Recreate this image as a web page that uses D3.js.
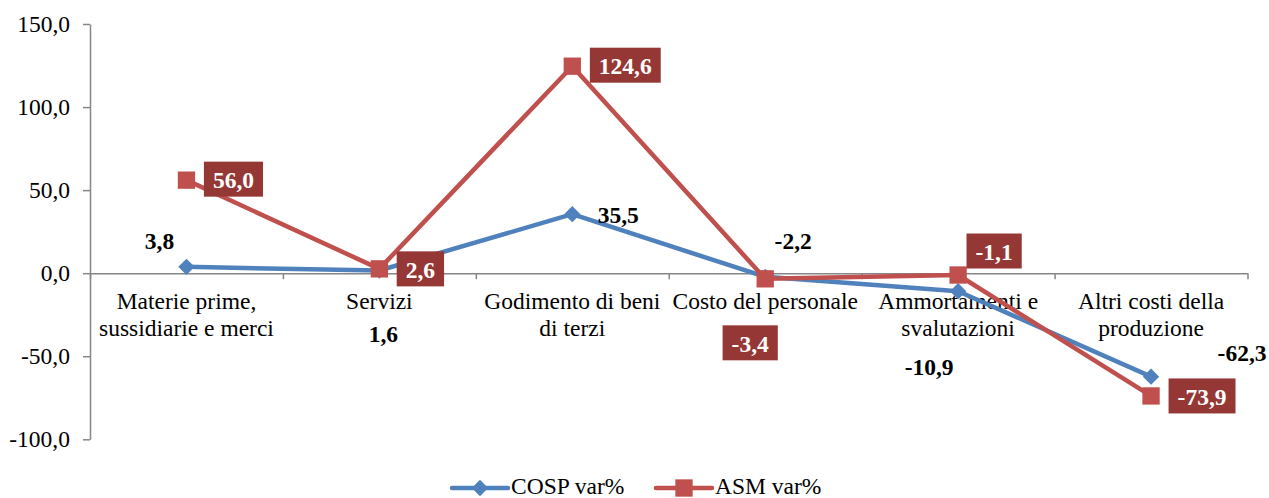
<!DOCTYPE html>
<html>
<head>
<meta charset="utf-8">
<script src="https://cdn.jsdelivr.net/npm/d3@7"></script>
<style>
body { margin: 0; background: white; }
svg text { font-family: "Liberation Serif", "Times New Roman", serif; }
</style>
</head>
<body>
<svg id="chart"></svg>
<script>
var categories = [
    ["Materie prime,", "sussidiarie e merci"],
    ["Servizi"],
    ["Godimento di beni", "di terzi"],
    ["Costo del personale"],
    ["Ammortamenti e", "svalutazioni"],
    ["Altri costi della", "produzione"]
]
var cospValues = [3.8, 1.6, 35.5, -2.2, -10.9, -62.3]
var asmValues = [56.0, 2.6, 124.6, -3.4, -1.1, -73.9]
var yTicks = [-100, -50, 0, 50, 100, 150]
var seriesNames = ["COSP var%", "ASM var%"]

// label placement (offset from the point, like the hand moved labels in the original)
var cospLabelOffset = [[-27, -26], [4, 63], [46, 1], [28, -36], [-29, 76], [91, -24]]
var asmLabelOffset = [[47, -1], [41, 0], [53, -1], [-15, 64], [36, -24], [51, 0]]

var width = 1269
var height = 498
var fontSize = "23.5px"
var blue = "#4f81bd", red = "#c0504d", boxRed = "#953735", axisGray = "#868686"

var svg = d3.select("#chart")
    .attr("width", width)
    .attr("height", height)

var x = d3.scaleBand()
    .domain(d3.range(categories.length))
    .range([90, 1247.5])
    .padding(0)
var xc = function(i) { return x(i) + x.bandwidth() / 2 }
var xEdge = d3.scaleLinear().domain([0, categories.length]).range([90, 1247.5])

var y = d3.scaleLinear()
    .domain([-100, 150])
    .range([439.3, 24])

var it = d3.formatLocale({decimal: ",", thousands: ".", grouping: [3], currency: ["", "€"], minus: "-"})
var fmt = it.format(".1f")

// y axis
var yAxis = svg.append("g")
    .attr("transform", "translate(90,0)")
    .call(d3.axisLeft(y).tickValues(yTicks).tickFormat(fmt).tickSizeInner(7).tickSizeOuter(0).tickPadding(13))
yAxis.select(".domain").attr("stroke", axisGray).attr("stroke-width", 1.5)
yAxis.selectAll(".tick line").attr("stroke", axisGray).attr("stroke-width", 1.5)
yAxis.selectAll(".tick text")
    .attr("fill", "black")
    .style("font-size", fontSize)

// x axis at zero
var xAxis = svg.append("g")
    .attr("transform", "translate(0," + y(0) + ")")
    .call(d3.axisBottom(xEdge).tickValues(d3.range(categories.length + 1)).tickFormat("").tickSizeInner(6).tickSizeOuter(0))
xAxis.select(".domain").attr("stroke", axisGray).attr("stroke-width", 1.5)
xAxis.selectAll(".tick line").attr("stroke", axisGray).attr("stroke-width", 1.5)

// category labels
svg.append("g").selectAll("text")
    .data(categories)
    .enter()
    .append("text")
    .attr("text-anchor", "middle")
    .attr("x", function(d, i) { return xc(i) })
    .attr("y", y(0) + 36)
    .style("font-size", fontSize)
    .attr("fill", "black")
    .each(function(d, i) {
        var t = d3.select(this)
        d.forEach(function(line, j) {
            t.append("tspan")
                .attr("x", xc(i))
                .attr("dy", j == 0 ? 0 : 27)
                .text(line)
        })
    })

var line = d3.line()
    .x(function(d, i) { return xc(i) })
    .y(function(d) { return y(d) })

svg.append("path")
    .datum(cospValues)
    .attr("fill", "none")
    .attr("stroke", blue)
    .attr("stroke-width", 4.5)
    .attr("stroke-linejoin", "round")
    .attr("d", line)

svg.append("path")
    .datum(asmValues)
    .attr("fill", "none")
    .attr("stroke", red)
    .attr("stroke-width", 4.5)
    .attr("stroke-linejoin", "round")
    .attr("d", line)

var diamond = d3.symbol().type(d3.symbolDiamond2).size(170)
var square = d3.symbol().type(d3.symbolSquare).size(300)

svg.append("g").selectAll("path")
    .data(cospValues)
    .enter()
    .append("path")
    .attr("d", diamond)
    .attr("transform", function(d, i) { return "translate(" + xc(i) + "," + y(d) + ")" })
    .attr("fill", blue)

svg.append("g").selectAll("path")
    .data(asmValues)
    .enter()
    .append("path")
    .attr("d", square)
    .attr("transform", function(d, i) { return "translate(" + xc(i) + "," + y(d) + ")" })
    .attr("fill", red)

// COSP labels
svg.append("g").selectAll("text")
    .data(cospValues)
    .enter()
    .append("text")
    .attr("text-anchor", "middle")
    .attr("dominant-baseline", "central")
    .attr("x", function(d, i) { return xc(i) + cospLabelOffset[i][0] })
    .attr("y", function(d, i) { return y(d) + cospLabelOffset[i][1] })
    .style("font-size", fontSize)
    .style("font-weight", "bold")
    .attr("fill", "black")
    .text(fmt)

// ASM labels with boxes
var asmLab = svg.append("g").selectAll("g")
    .data(asmValues)
    .enter()
    .append("g")
    .attr("transform", function(d, i) {
        return "translate(" + (xc(i) + asmLabelOffset[i][0]) + "," + (y(d) + asmLabelOffset[i][1]) + ")"
    })
asmLab.append("rect").attr("fill", boxRed)
asmLab.append("text")
    .attr("text-anchor", "middle")
    .attr("dominant-baseline", "central")
    .attr("y", 1)
    .style("font-size", fontSize)
    .style("font-weight", "bold")
    .attr("fill", "white")
    .text(fmt)
asmLab.each(function() {
    var g = d3.select(this)
    var w = g.select("text").node().getComputedTextLength() + 18
    g.select("rect")
        .attr("x", -w / 2)
        .attr("y", -17.5)
        .attr("width", w)
        .attr("height", 35)
})

// legend
var legend = svg.append("g").attr("transform", "translate(0,488)")
var legendItems = [
    {name: seriesNames[0], color: blue, sym: diamond, x: 452},
    {name: seriesNames[1], color: red, sym: square, x: 656}
]
legendItems.forEach(function(d) {
    legend.append("line")
        .attr("x1", d.x).attr("x2", d.x + 56)
        .attr("y1", 0).attr("y2", 0)
        .attr("stroke", d.color)
        .attr("stroke-width", 4.5)
        .attr("stroke-linecap", "round")
    legend.append("path")
        .attr("d", d.sym)
        .attr("transform", "translate(" + (d.x + 28) + ",0)")
        .attr("fill", d.color)
    legend.append("text")
        .attr("x", d.x + 59)
        .attr("y", 6)
        .style("font-size", fontSize)
        .attr("fill", "black")
        .text(d.name)
})
</script>
</body>
</html>
